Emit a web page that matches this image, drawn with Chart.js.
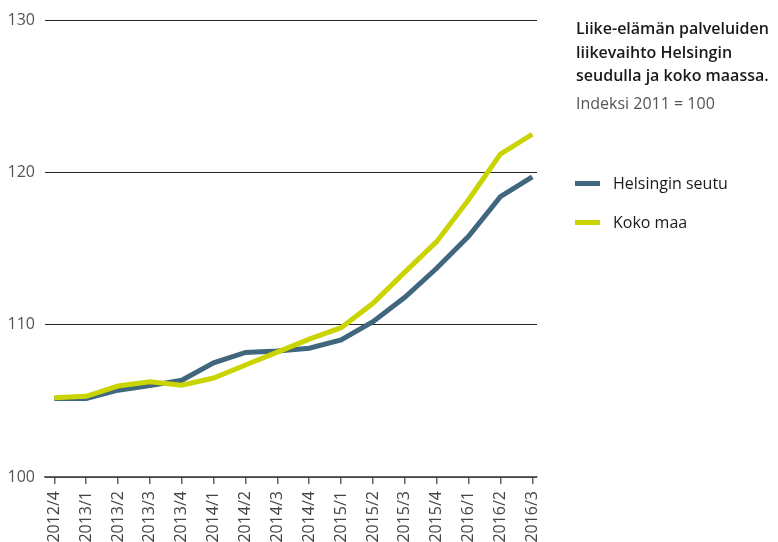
<!DOCTYPE html>
<html>
<head>
<meta charset="utf-8">
<script src="https://cdn.jsdelivr.net/npm/chart.js@4"></script>
<style>
    html, body { margin: 0; padding: 0; background: #fff; }
    #wrap { position: relative; width: 778px; height: 542px; font-family: "Open Sans", sans-serif; }
    #chart { position: absolute; left: 0; top: 0; }
    .title { position: absolute; left: 576px; top: 17px; font-size: 16px; font-weight: 600; line-height: 23.5px; color: #1a1a1a; }
    .sub { position: absolute; left: 576px; top: 92px; font-size: 16px; color: #555; }
    .item { position: absolute; left: 575px; font-size: 16px; color: #1a1a1a; }
    .item i { display: inline-block; width: 25px; height: 5px; vertical-align: middle; margin-right: 13px; position: relative; top: -1px; }
</style>
</head>
<body>
<div id="wrap">
    <canvas id="chart" width="778" height="542"></canvas>
    <div class="title">Liike-elämän palveluiden<br>liikevaihto Helsingin<br>seudulla ja koko maassa.</div>
    <div class="sub">Indeksi 2011 = 100</div>
    <div class="item" style="top:172px"><i style="background:#41677f"></i>Helsingin seutu</div>
    <div class="item" style="top:211px"><i style="background:#c9d400"></i>Koko maa</div>
</div>
<script>
const quarters = ["2012/4", "2013/1", "2013/2", "2013/3", "2013/4", "2014/1", "2014/2", "2014/3",
    "2014/4", "2015/1", "2015/2", "2015/3", "2015/4", "2016/1", "2016/2", "2016/3"];
const helsinki = [105.15, 105.15, 105.7, 106.0, 106.35, 107.5, 108.18, 108.27,
    108.45, 109.0, 110.2, 111.8, 113.7, 115.8, 118.4, 119.7];
const wholeCountry = [105.2, 105.3, 105.97, 106.25, 106.03, 106.5, 107.35, 108.2,
    109.05, 109.8, 111.4, 113.45, 115.45, 118.2, 121.2, 122.5];
const yTicks = [100, 110, 120, 130];

const toPoints = arr => arr.map((v, i) => ({ x: i, y: v }));

new Chart(document.getElementById("chart"), {
    type: "line",
    data: {
        datasets: [{
            label: "Helsingin seutu",
            data: toPoints(helsinki),
            borderColor: "#41677f",
            borderWidth: 5,
            pointRadius: 0,
            tension: 0,
            order: 1
        }, {
            label: "Koko maa",
            data: toPoints(wholeCountry),
            borderColor: "#c9d400",
            borderWidth: 5,
            pointRadius: 0,
            tension: 0,
            order: 0
        }]
    },
    options: {
        responsive: false,
        animation: false,
        layout: { padding: { top: 20, right: 241, left: 0, bottom: 0 } },
        plugins: { legend: { display: false }, tooltip: { enabled: false } },
        scales: {
            x: {
                type: "linear",
                min: -0.292,
                max: 15.148,
                afterBuildTicks: axis => { axis.ticks = quarters.map((_, i) => ({ value: i })); },
                afterFit: axis => { axis.height = 65; },
                ticks: {
                    callback: v => quarters[v],
                    minRotation: 90,
                    maxRotation: 90,
                    autoSkip: false,
                    padding: 7,
                    color: "#444",
                    font: { family: "Open Sans", size: 16 }
                },
                grid: { drawOnChartArea: false, drawTicks: true, tickLength: 7, color: "#666", lineWidth: 1.5 },
                border: { display: true, color: "#666", width: 1.5 }
            },
            y: {
                min: 100,
                max: 130,
                afterBuildTicks: axis => { axis.ticks = yTicks.map(v => ({ value: v })); },
                afterFit: axis => { axis.width = 45; },
                ticks: {
                    padding: 10,
                    color: "#555",
                    font: { family: "Open Sans", size: 16 }
                },
                grid: { color: "#222", lineWidth: 1, drawTicks: false },
                border: { display: false }
            }
        }
    }
});
</script>
</body>
</html>
